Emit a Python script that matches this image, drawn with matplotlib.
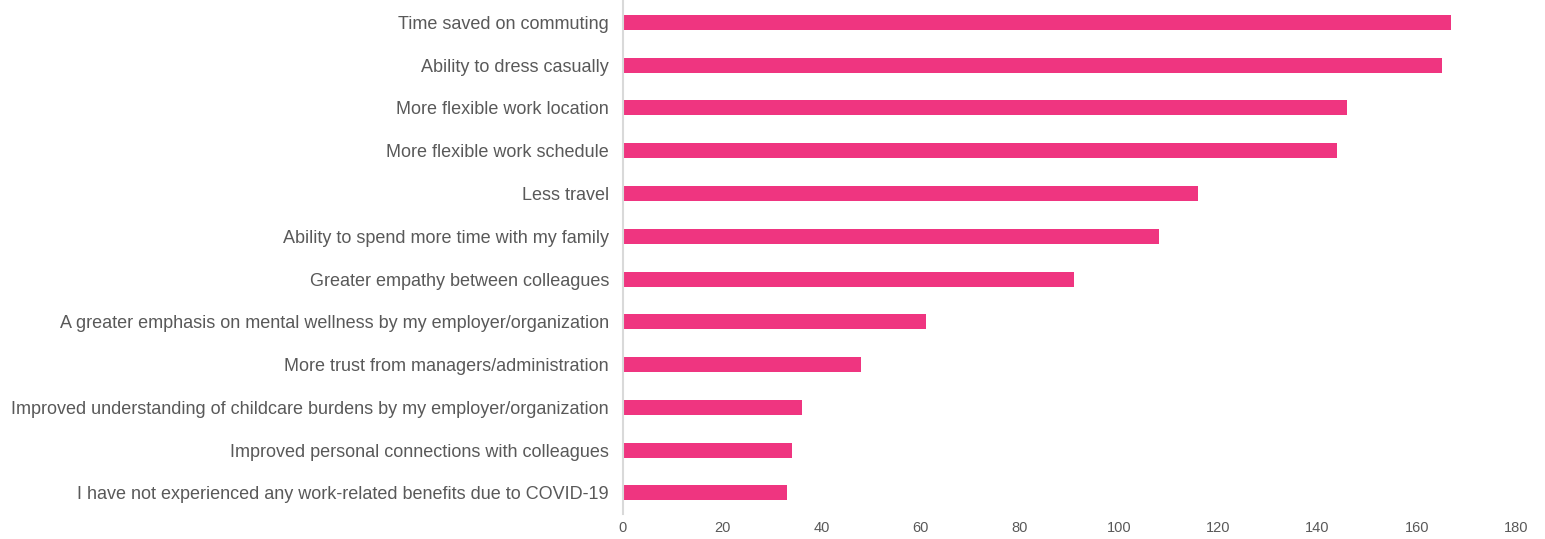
import matplotlib
matplotlib.use("Agg")
import matplotlib.pyplot as plt

# work-related benefits experienced since COVID-19 (number of respondents)
benefits = [
    "Time saved on commuting",
    "Ability to dress casually",
    "More flexible work location",
    "More flexible work schedule",
    "Less travel",
    "Ability to spend more time with my family",
    "Greater empathy between colleagues",
    "A greater emphasis on mental wellness by my employer/organization",
    "More trust from managers/administration",
    "Improved understanding of childcare burdens by my employer/organization",
    "Improved personal connections with colleagues",
    "I have not experienced any work-related benefits due to COVID-19",
]
counts = [167, 165, 146, 144, 116, 108, 91, 61, 48, 36, 34, 33]
xticks = [0, 20, 40, 60, 80, 100, 120, 140, 160, 180]

plt.rcParams["font.family"] = ["Liberation Sans", "DejaVu Sans"]
text_color = "#595959"

fig = plt.figure(figsize=(15.45, 5.39), dpi=100)
ax = fig.add_axes([0.4032, 0.046, 0.5780, 0.952])

ypos = list(range(len(benefits)))
ax.barh(ypos, counts, height=0.35, color="#EF3580")
ax.set_ylim(len(benefits) - 0.5, -0.5)
ax.set_xlim(0, 180)

ax.set_yticks(ypos)
ax.set_yticklabels(benefits, fontsize=13, color=text_color)
ax.set_xticks(xticks)
ax.set_xticklabels([str(t) for t in xticks], fontsize=10.5, color=text_color)
ax.tick_params(axis="both", length=0)
ax.tick_params(axis="y", pad=10)
ax.tick_params(axis="x", pad=5)

for side in ["top", "right", "bottom"]:
    ax.spines[side].set_visible(False)
ax.spines["left"].set_color("#D9D9D9")
ax.spines["left"].set_linewidth(1.5)

fig.savefig("out.png", dpi=100)
